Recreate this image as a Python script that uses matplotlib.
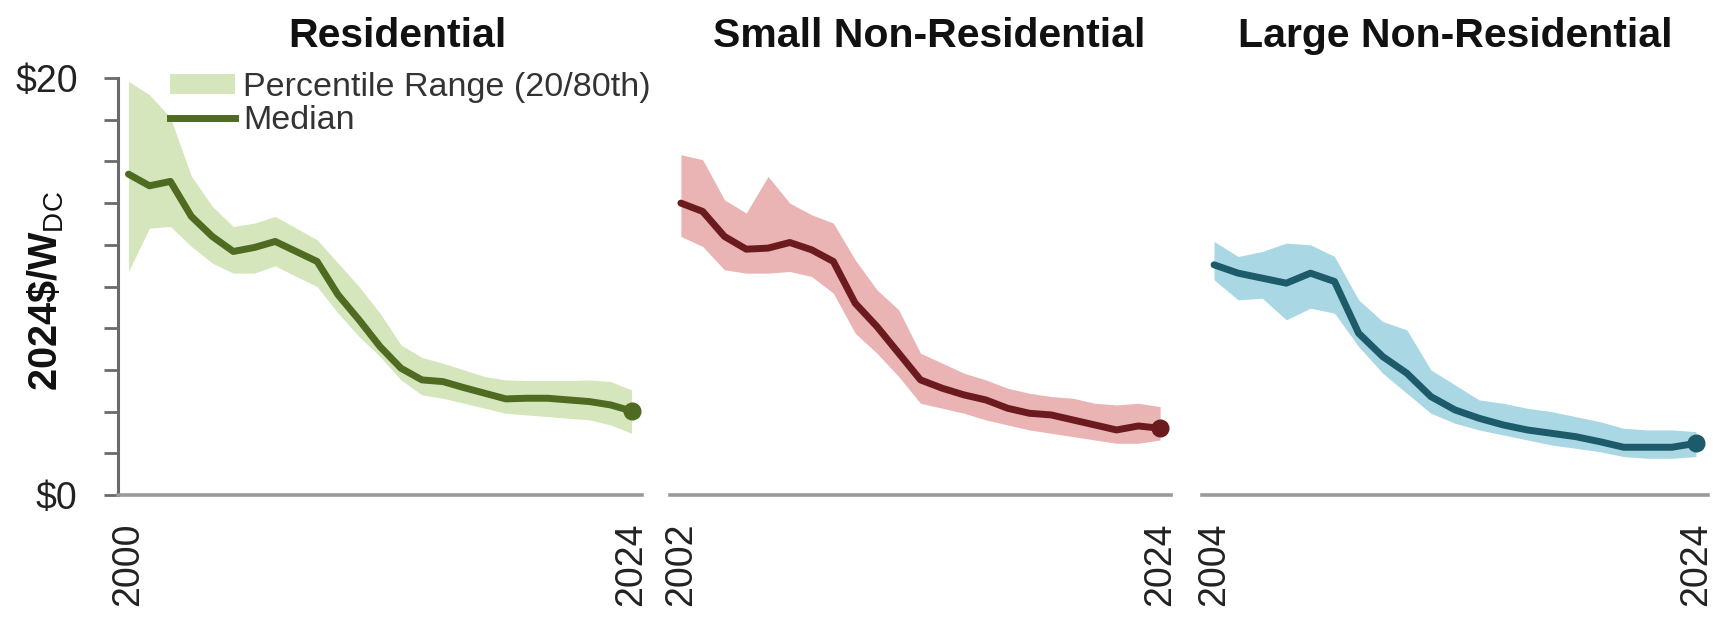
import matplotlib
matplotlib.use("Agg")
import matplotlib.pyplot as plt
from matplotlib.lines import Line2D
from matplotlib.patches import Patch

plt.rcParams["font.family"] = ["Liberation Sans", "DejaVu Sans"]
plt.rcParams["mathtext.fontset"] = "custom"
plt.rcParams["mathtext.rm"] = "Liberation Sans"
plt.rcParams["mathtext.bf"] = "Liberation Sans:bold"

# ---- data: installed price, 2024$/W_DC ----
segments = ["Residential", "Small Non-Residential", "Large Non-Residential"]

years_res = list(range(2000, 2025))
median_res = [15.39, 14.83, 15.04, 13.36, 12.40, 11.68, 11.87, 12.16, 11.68, 11.20,
              9.60, 8.40, 7.12, 6.08, 5.52, 5.44, 5.15, 4.88, 4.61, 4.64,
              4.64, 4.56, 4.48, 4.32, 4.03]
p80_res = [19.84, 19.20, 18.10, 15.30, 13.84, 12.88, 13.04, 13.36, 12.80, 12.24,
           11.12, 10.00, 8.72, 7.20, 6.60, 6.32, 6.00, 5.68, 5.52, 5.49,
           5.49, 5.49, 5.52, 5.44, 5.04]
p20_res = [10.72, 12.80, 12.88, 11.92, 11.12, 10.64, 10.64, 10.99, 10.48, 10.00,
           8.72, 7.60, 6.64, 5.52, 4.80, 4.64, 4.40, 4.16, 3.92, 3.84,
           3.76, 3.68, 3.60, 3.36, 2.96]

years_small = list(range(2002, 2025))
median_small = [14.00, 13.60, 12.40, 11.79, 11.84, 12.11, 11.76, 11.20, 9.20, 8.08,
                6.80, 5.52, 5.12, 4.80, 4.56, 4.16, 3.92, 3.84, 3.60, 3.36,
                3.12, 3.31, 3.20]
p80_small = [16.32, 16.08, 14.16, 13.52, 15.28, 14.00, 13.44, 13.04, 11.28, 9.84,
             8.88, 6.80, 6.32, 5.84, 5.52, 5.12, 4.88, 4.72, 4.64, 4.40,
             4.32, 4.40, 4.24]
p20_small = [12.40, 11.92, 10.80, 10.64, 10.64, 10.72, 10.48, 9.68, 7.76, 6.80,
             5.68, 4.40, 4.16, 3.92, 3.60, 3.36, 3.12, 2.96, 2.80, 2.64,
             2.48, 2.48, 2.64]

years_large = list(range(2004, 2025))
median_large = [11.04, 10.64, 10.40, 10.16, 10.64, 10.24, 7.76, 6.64, 5.84, 4.72,
                4.08, 3.68, 3.36, 3.12, 2.96, 2.80, 2.56, 2.29, 2.29, 2.29,
                2.48]
p80_large = [12.16, 11.44, 11.68, 12.08, 12.00, 11.44, 9.36, 8.32, 7.92, 6.00,
             5.28, 4.56, 4.40, 4.16, 4.00, 3.76, 3.52, 3.20, 3.12, 3.12,
             3.04]
p20_large = [10.32, 9.36, 9.44, 8.40, 8.96, 8.72, 7.12, 5.84, 4.88, 3.92,
             3.44, 3.12, 2.88, 2.64, 2.40, 2.24, 2.08, 1.84, 1.76, 1.76,
             1.84]

y_ticks = list(range(0, 21, 2))
y_tick_labels = ["$0"] + [""] * 9 + ["$20"]

# ---- styling ----
band_colors = ["#d5e6bd", "#eab4b4", "#a9d7e4"]
line_colors = ["#4e6b21", "#6b1b1e", "#1d5a6a"]

W, H = 1713, 617
fig = plt.figure(figsize=(W / 100, H / 100), dpi=100)

bottom = 1 - 495 / H
height = (495 - 78) / H
boxes = [(118, 524), (670, 501), (1202, 506)]
title_x = [397, 929, 1455]

series = [
    (years_res, median_res, p20_res, p80_res),
    (years_small, median_small, p20_small, p80_small),
    (years_large, median_large, p20_large, p80_large),
]

TICK_FS = 27
axes = []
for i, ((x0, w), (yrs, med, lo, hi)) in enumerate(zip(boxes, series)):
    ax = fig.add_axes([x0 / W, bottom, w / W, height])
    axes.append(ax)
    ax.fill_between(yrs, lo, hi, color=band_colors[i], linewidth=0, zorder=1)
    ax.plot(yrs, med, color=line_colors[i], linewidth=5, solid_joinstyle="round",
            solid_capstyle="round", marker="o", markevery=[len(yrs) - 1],
            markersize=12, zorder=3, clip_on=False)
    ax.set_xlim(yrs[0] - 0.5, yrs[-1] + 0.5)
    ax.set_ylim(0, 20)
    ax.set_xticks([yrs[0], yrs[-1]])
    ax.set_xticklabels([str(yrs[0]), str(yrs[-1])], rotation=90,
                       fontsize=TICK_FS, color="#222222")
    ax.tick_params(axis="x", length=0, pad=20)
    for s in ("top", "right"):
        ax.spines[s].set_visible(False)
    ax.spines["bottom"].set_color("#9a9a9a")
    ax.spines["bottom"].set_linewidth(2.6)
    if i == 0:
        ax.spines["left"].set_color("#6a6a6a")
        ax.spines["left"].set_linewidth(2.2)
        ax.set_yticks(y_ticks)
        ax.set_yticklabels(y_tick_labels, fontsize=TICK_FS, color="#222222")
        ax.tick_params(axis="y", length=10, width=2, color="#6a6a6a", pad=19)
    else:
        ax.spines["left"].set_visible(False)
        ax.set_yticks([])
    fig.text(title_x[i] / W, 1 - 47 / H, segments[i], ha="center",
             va="baseline", fontsize=29.5, fontweight="bold", color="#111111")

fig.text(46 / W, 1 - 291 / H, r"$\mathbf{2024\$/W}_{\mathrm{DC}}$",
         rotation=90, ha="center", va="center", fontsize=28.5, color="#111111")

handles = [
    Patch(facecolor=band_colors[0], edgecolor="none",
          label="Percentile Range (20/80th)"),
    Line2D([0], [0], color=line_colors[0], linewidth=5,
           label="Median"),
]
axes[0].legend(handles=handles, loc="upper left",
               bbox_to_anchor=(170 / W, 1 - 72 / H),
               bbox_transform=fig.transFigure, frameon=False,
               fontsize=24.5, borderpad=0, borderaxespad=0,
               handlelength=1.9, handleheight=0.5, handletextpad=0.25,
               labelspacing=0.05, labelcolor="#333333")

fig.savefig("out.png", dpi=100, facecolor="white")
